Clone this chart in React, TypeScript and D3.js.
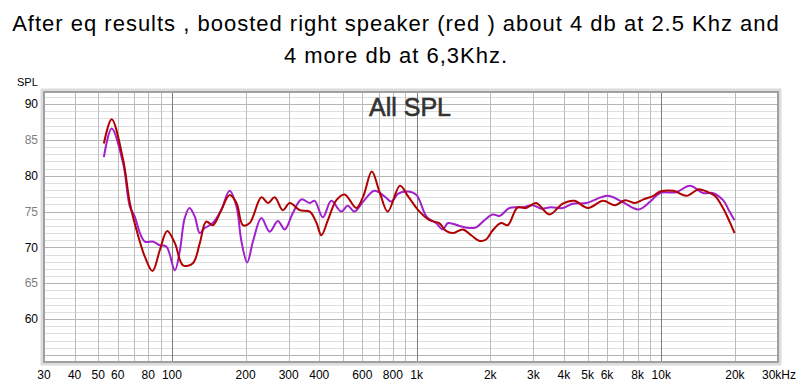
import * as d3 from "d3";

// Left channel (purple) – freq in Hz, level in dB
const purpleFreq = [52.7, 56.7, 63.2, 67.3, 70.5, 74, 77.5, 83.9, 89.2, 95, 102.8, 107.8, 112.8, 118, 124, 130, 136, 147, 159, 172, 183.6, 192, 203, 215, 232, 251, 271, 289, 312, 338, 366, 383, 414, 448, 492, 523, 557, 605, 673, 741, 789, 841, 925, 1000, 1098, 1200, 1280, 1344, 1497, 1645, 1752, 1893, 2048, 2184, 2397, 2715, 2985, 3228, 3540, 3955, 4340, 4940, 6038, 6893, 8060, 9014, 9897, 11500, 13095, 14830, 16200, 17880, 19020, 19930];
const purpleDb = [82.6, 86.6, 81.7, 75.7, 74.3, 72.0, 70.8, 70.8, 70.3, 70.1, 66.8, 69.6, 74.1, 75.5, 74.3, 72.0, 72.7, 73.4, 75.2, 77.9, 75.7, 71.0, 67.9, 71.0, 74.1, 72.2, 73.7, 72.5, 74.8, 76.7, 76.2, 76.5, 74.2, 76.5, 75.0, 75.8, 75.0, 76.4, 77.9, 77.1, 76.4, 77.5, 77.8, 77.3, 74.3, 73.4, 72.5, 73.4, 73.0, 72.7, 72.8, 73.8, 74.6, 74.4, 75.5, 75.6, 75.9, 75.4, 75.6, 75.5, 76.1, 76.2, 77.2, 76.4, 75.3, 76.4, 77.6, 77.7, 78.6, 77.6, 77.6, 76.6, 75.0, 73.8];

// Right channel (red)
const redFreq = [52.7, 56.7, 63.2, 67.3, 71.7, 77.5, 83.3, 89.2, 95.6, 102.8, 111, 121.8, 130, 138, 147, 159, 172, 183.6, 195, 208, 232, 247, 263, 284, 303, 333, 366, 390, 408, 434, 470, 508, 567, 605, 656, 705, 762, 855, 925, 1015, 1128, 1237, 1319, 1405, 1545, 1672, 1810, 1924, 2048, 2215, 2357, 2588, 2805, 3080, 3490, 3955, 4412, 5015, 5777, 6471, 7116, 7820, 8457, 9285, 9897, 11208, 12700, 14160, 15315, 16550, 17880, 19020, 19930];
const redDb = [84.5, 87.9, 82.2, 76.2, 72.4, 68.7, 66.7, 69.6, 72.3, 70.6, 67.5, 67.8, 70.6, 73.6, 73.1, 75.2, 77.3, 76.2, 73.1, 73.4, 77.0, 76.2, 77.0, 75.2, 76.2, 75.2, 75.0, 73.4, 71.7, 73.8, 76.6, 77.4, 75.5, 77.1, 80.6, 77.8, 75.0, 78.6, 77.1, 75.2, 73.8, 73.4, 72.3, 72.0, 72.5, 71.7, 70.9, 71.1, 72.4, 73.4, 73.1, 75.6, 75.5, 76.2, 74.6, 76.1, 76.5, 75.5, 76.5, 75.9, 76.6, 76.2, 76.7, 77.2, 77.8, 77.9, 77.2, 78.1, 77.8, 77.2, 75.5, 73.6, 72.0];

const xTickValues = [30, 40, 50, 60, 80, 100, 200, 300, 400, 600, 800, 1000, 2000, 3000, 4000, 5000, 6000, 8000, 10000, 20000, 30000];
const xTickLabels = ["30", "40", "50", "60", "80", "100", "200", "300", "400", "600", "800", "1k", "2k", "3k", "4k", "5k", "6k", "8k", "10k", "20k", "30kHz"];
const yTickValues = [90, 85, 80, 75, 70, 65, 60];

const titleLines = [
  "After eq results , boosted right speaker (red ) about 4 db at 2.5 Khz and",
  "4 more db at 6,3Khz.",
];

const W = 800;
const H = 387;
const plot = { left: 44, right: 778, top: 92, bottom: 362 };

export default function App() {
  const x = d3.scaleLog().domain([30, 30000]).range([plot.left, plot.right]);
  const y = d3.scaleLinear().domain([54, 91.7]).range([plot.bottom, plot.top]);

  // vertical grid: 1..9 per decade
  const vGrid: number[] = [];
  for (const dec of [10, 100, 1000, 10000]) {
    for (let k = 1; k <= 9; k++) {
      const f = dec * k;
      if (f > 30 && f < 30000) vGrid.push(f);
    }
  }
  const hGrid = d3.range(55, 92);

  const line = d3
    .line<[number, number]>()
    .x((d) => x(d[0]))
    .y((d) => y(d[1]))
    .curve(d3.curveCatmullRom.alpha(0.5));

  const purple = purpleFreq.map((f, i) => [f, purpleDb[i]] as [number, number]);
  const red = redFreq.map((f, i) => [f, redDb[i]] as [number, number]);

  const font = "'Liberation Sans', Arial, sans-serif";

  return (
    <svg width={W} height={H} style={{ position: "absolute", left: 0, top: 0, background: "#fff" }} fontFamily={font}>
      {titleLines.map((t, i) => (
        <text key={i} x={W / 2 - 4} y={31 + i * 32} textAnchor="middle" fontSize={22} letterSpacing={1} fill="#000">
          {t}
        </text>
      ))}

      <text x={17} y={86} fontSize={11} fill="#000">SPL</text>

      {/* frame shadow */}
      <rect
        x={plot.left - 2}
        y={plot.top - 2}
        width={plot.right - plot.left + 4}
        height={plot.bottom - plot.top + 4}
        fill="none"
        stroke="#dcdcdc"
        strokeWidth={3}
      />
      <rect x={plot.left} y={plot.top} width={plot.right - plot.left} height={plot.bottom - plot.top} fill="#fff" />

      {hGrid.map((v) => (
        <line
          key={"h" + v}
          x1={plot.left}
          x2={plot.right}
          y1={Math.round(y(v)) + 0.5}
          y2={Math.round(y(v)) + 0.5}
          stroke={v % 5 === 0 ? "#b4b4b4" : "#dedede"}
          strokeWidth={1}
        />
      ))}
      {vGrid.map((f) => (
        <line
          key={"v" + f}
          x1={Math.round(x(f)) + 0.5}
          x2={Math.round(x(f)) + 0.5}
          y1={plot.top}
          y2={plot.bottom}
          stroke={f === 100 || f === 1000 || f === 10000 ? "#7c7c7c" : "#bcbcbc"}
          strokeWidth={1}
        />
      ))}

      <text x={410} y={116} textAnchor="middle" fontSize={25} fill="#333" stroke="#333" strokeWidth={0.6}>All SPL</text>

      <path d={line(purple) ?? ""} fill="none" stroke="#a21fcc" strokeWidth={2} />
      <path d={line(red) ?? ""} fill="none" stroke="#b00000" strokeWidth={2} />

      <rect
        x={plot.left}
        y={plot.top}
        width={plot.right - plot.left}
        height={plot.bottom - plot.top}
        fill="none"
        stroke="#a0a0a0"
        strokeWidth={2}
      />

      {yTickValues.map((v) => (
        <text
          key={"yt" + v}
          x={38}
          y={y(v)}
          dy="0.35em"
          textAnchor="end"
          fontSize={12}
          fill={v % 10 === 0 ? "#000" : "#808080"}
        >
          {v}
        </text>
      ))}

      {xTickValues.map((v, i) => (
        <text
          key={"xt" + v}
          x={i === xTickValues.length - 1 ? x(v) - 16 : x(v)}
          y={379}
          textAnchor={i === xTickValues.length - 1 ? "start" : "middle"}
          fontSize={12}
          fill="#000"
        >
          {xTickLabels[i]}
        </text>
      ))}
    </svg>
  );
}
